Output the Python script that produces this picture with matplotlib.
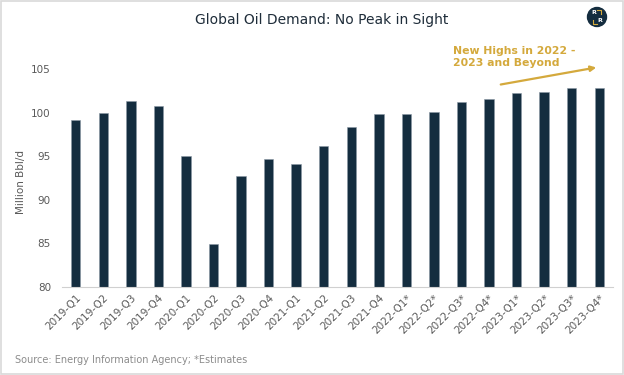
import matplotlib.pyplot as plt
from matplotlib.patches import Ellipse, Rectangle

quarters = ['2019-Q1', '2019-Q2', '2019-Q3', '2019-Q4',
            '2020-Q1', '2020-Q2', '2020-Q3', '2020-Q4',
            '2021-Q1', '2021-Q2', '2021-Q3', '2021-Q4',
            '2022-Q1*', '2022-Q2*', '2022-Q3*', '2022-Q4*',
            '2023-Q1*', '2023-Q2*', '2023-Q3*', '2023-Q4*']
demand = [99.1, 100.0, 101.3, 100.8,
          95.0, 84.9, 92.7, 94.7,
          94.1, 96.2, 98.3, 99.8,
          99.8, 100.1, 101.2, 101.6,
          102.3, 102.4, 102.8, 102.8]
yticks = [80, 85, 90, 95, 100, 105]

navy = '#142d3f'
gold = '#d4a93c'
grey = '#595959'

W, H = 624, 375
fig = plt.figure(figsize=(6.24, 3.75), dpi=100)
ax = fig.add_axes([62/W, 88/H, 551/W, 218/H])


def fx(px):
    return px / W


def fy(py):
    return 1 - py / H


x = range(len(quarters))
ax.bar(x, demand, width=0.34, color=navy, edgecolor='#8a98a5', linewidth=0.4)

ax.set_xlim(-0.5, len(quarters) - 0.5)
ax.set_ylim(80, 105)
ax.set_yticks(yticks)
ax.set_xticks(list(x))
ax.set_xticklabels(quarters, rotation=45, ha='right', rotation_mode='anchor')
ax.tick_params(axis='both', length=0, labelsize=7.5, colors=grey)
ax.tick_params(axis='y', pad=8)
ax.tick_params(axis='x', pad=4)
for s in ['top', 'right', 'left']:
    ax.spines[s].set_visible(False)
ax.spines['bottom'].set_color('#d0d0d0')
fig.text(fx(21), fy(182), 'Million Bbl/d', rotation=90, ha='center',
         va='center', fontsize=7.5, color=grey)

fig.text(fx(322), fy(20), 'Global Oil Demand: No Peak in Sight',
         ha='center', va='center', fontsize=10, color='#1f2d3a')

# annotation
fig.text(fx(453), fy(57), 'New Highs in 2022 -\n2023 and Beyond',
         ha='left', va='center', fontsize=7.8, color=gold, fontweight='bold',
         linespacing=1.3)
ax.annotate('', xy=(fx(599), fy(67)), xytext=(fx(498), fy(85)),
            xycoords='figure fraction', textcoords='figure fraction',
            arrowprops=dict(arrowstyle='-|>', color=gold, lw=1.6,
                            mutation_scale=8))

# logo
fig.add_artist(Ellipse((fx(597), fy(17)), 19/W, 19/H, transform=fig.transFigure,
                       color=navy))
fig.text(fx(594), fy(13), 'R', ha='center', va='center',
         fontsize=4.5, color='white', fontweight='bold')
fig.text(fx(600), fy(21), 'R', ha='center', va='center',
         fontsize=4.5, color='white', fontweight='bold')
fig.add_artist(plt.Line2D([fx(597), fx(601), fx(601)], [fy(10), fy(10), fy(14)],
                          transform=fig.transFigure, color=gold, lw=0.8))
fig.add_artist(plt.Line2D([fx(593), fx(593), fx(597)], [fy(20), fy(24), fy(24)],
                          transform=fig.transFigure, color=gold, lw=0.8))

fig.text(fx(15), fy(360), 'Source: Energy Information Agency; *Estimates',
         ha='left', va='center', fontsize=7, color='#8c8c8c')

# frame
fig.add_artist(Rectangle((0.001, 0.002), 0.997, 0.995, transform=fig.transFigure,
                         fill=False, edgecolor='#d9d9d9', linewidth=1.2))

fig.savefig('out.png', dpi=100)
